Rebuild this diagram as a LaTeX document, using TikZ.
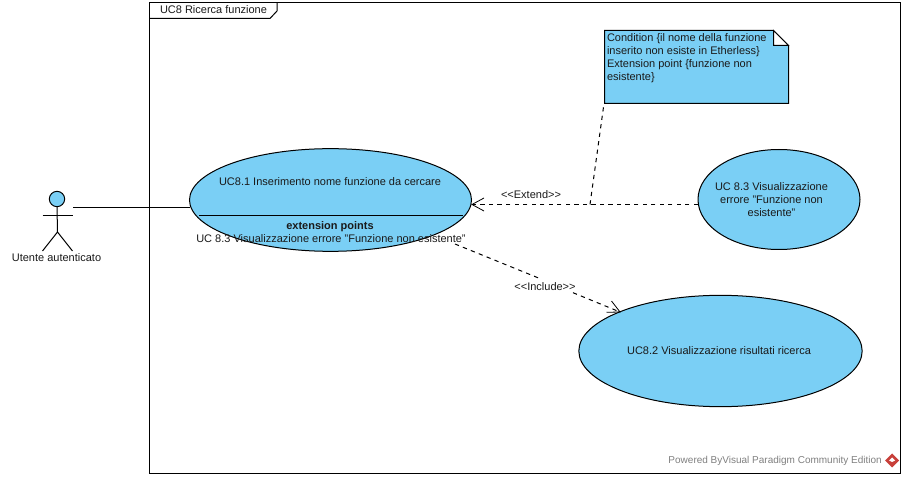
\documentclass[tikz,border=0pt]{standalone}
\usepackage{fontspec}
\setmainfont{Liberation Sans}[Ligatures=NoCommon]
\usetikzlibrary{arrows.meta,shapes.geometric}
\definecolor{ucfill}{HTML}{7ACFF5}
\definecolor{ucline}{HTML}{000000}
\definecolor{uctext}{HTML}{1A1A1A}
\definecolor{wmtext}{HTML}{808080}
\definecolor{logored}{HTML}{C8403A}
\tikzset{
  ucase/.style={ellipse,draw=ucline,fill=ucfill,line width=0.75pt,inner sep=0pt,outer sep=0pt},
  lbl/.style={text=uctext,font=\fontsize{8.25}{9.75}\selectfont,inner sep=0pt,outer sep=0pt},
  rel/.style={line width=0.75pt,draw=black},
  dep/.style={line width=0.75pt,draw=black,dash pattern=on 3.2pt off 3.2pt},
  openhead/.style={line width=0.6pt,draw=black}
}
\begin{document}
\begin{tikzpicture}[x=0.75pt,y=-0.75pt]
\useasboundingbox (0,0) rectangle (904,477);
\fill[white] (0,0) rectangle (904,477);
% frame
\draw[rel] (149.5,2.5) rectangle (900.5,473.5);
\draw[rel] (149.5,18.5) -- (270,18.5) -- (277,11) -- (277,2.5);
\node[lbl,anchor=west] (title) at (160,9.5) {UC8 Ricerca funzione};
% use cases
\node[ucase,minimum width=211.5pt,minimum height=77pt] (uc1) at (330.5,200) {};
\node[ucase,minimum width=121.5pt,minimum height=75pt] (uc3) at (779,199.5) {};
\node[ucase,minimum width=212.5pt,minimum height=83.5pt] (uc2) at (720.5,351) {};
\draw[rel] (199,215.5) -- (463,215.5);
\node[lbl] (uc1t) at (330,181.5) {UC8.1 Inserimento nome funzione da cercare};
\node[lbl,font=\fontsize{8.25}{9.75}\selectfont\bfseries] (ext) at (330,227) {extension points};
\node[lbl] (extp) at (331,238.5) {UC 8.3 Visualizzazione errore "Funzione non esistente"};
\node[lbl,align=center] (uc3t) at (771.5,200) {UC 8.3 Visualizzazione\\errore "Funzione non\\esistente"};
\node[lbl] (uc2t) at (719,350.5) {UC8.2 Visualizzazione risultati ricerca};
% note
\draw[rel,fill=ucfill] (604.5,30.5) -- (773.5,30.5) -- (788.5,45.5) -- (788.5,103.5) -- (604.5,103.5) -- cycle;
\draw[rel,fill=white] (773.5,30.5) -- (773.5,45.5) -- (788.5,45.5) -- cycle;
\coordinate (notefoot) at (604,103.5);
\node[lbl,anchor=north west,align=left] (note) at (607,34) {Condition \{il nome della funzione\\inserito non esiste in Etherless\}\\Extension point \{funzione non\\esistente\}};
% actor
\node[circle,draw=black,fill=ucfill,line width=0.75pt,minimum size=11.5pt,inner sep=0pt,outer sep=0pt] (head) at (57,199) {};
\coordinate (hip) at (57.5,232);
\draw[rel] (head.south) -- (hip);
\coordinate (armL) at (42.5,215.5);
\coordinate (armR) at (72.5,215.5);
\coordinate (legL) at (42.5,251);
\coordinate (legR) at (72.5,251);
\draw[rel] (armL) -- (armR);
\draw[rel] (legL) -- (hip) -- (legR);
\node[lbl] (actor) at (56.5,258) {Utente autenticato};
% connectors
\coordinate (assocA) at (73,207.5);
\draw[rel] (assocA) -- (assocA -| uc1.west);
\coordinate (extR) at (698,204.5);
\coordinate (extL) at (472,204.5);
\coordinate (extM) at (590,204.5);
\draw[dep] (extR) -- (extL);
\draw[openhead] (484,198) -- (extL) -- (484,211);
\draw[dep] (extM) -- (notefoot);
\node[lbl] (extlab) at (531,194.5) {{<}{<}Extend{>}{>}};
\coordinate (incA) at (455,244);
\coordinate (incB) at (620,312);
\draw[dep] (incA) -- (541,279);
\draw[dep] (573,292.7) -- (incB);
\draw[openhead] (611.5,301) -- (incB) -- (606.5,312.3);
\node[lbl] (inclab) at (545,286.5) {{<}{<}Include{>}{>}};
% watermark
\node[font=\fontsize{7.5}{9}\selectfont,text=wmtext,inner sep=0pt,anchor=east] (wm) at (882,461) {Powered ByVisual Paradigm Community Edition};
\fill[logored] (892,453.5) -- (899,460.5) -- (892,467.5) -- (885,460.5) -- cycle;
\fill[white] (892,457.5) -- (895,460.5) -- (892,462) -- (889,460.5) -- cycle;
\end{tikzpicture}
\end{document}
